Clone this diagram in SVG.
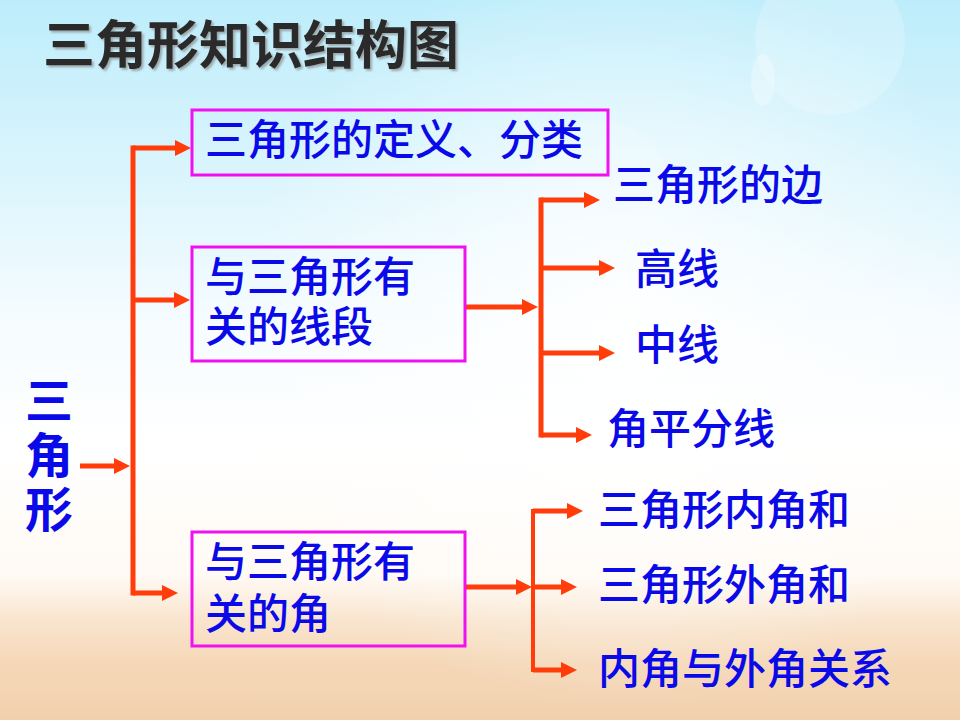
<svg xmlns="http://www.w3.org/2000/svg" width="960" height="720" viewBox="0 0 960 720">
<defs>
<linearGradient id="bg" x1="0" y1="0" x2="0" y2="1">
<stop offset="0" stop-color="#bdedfb"/>
<stop offset="0.25" stop-color="#dcf5fd"/>
<stop offset="0.45" stop-color="#f6fcff"/>
<stop offset="0.62" stop-color="#ffffff"/>
<stop offset="0.8" stop-color="#fffaf4"/>
<stop offset="0.86" stop-color="#f9e5cf"/>
<stop offset="0.92" stop-color="#f5d8b8"/>
<stop offset="1" stop-color="#f2d0ae"/>
</linearGradient>
<radialGradient id="glow" cx="620" cy="330" r="380" gradientUnits="userSpaceOnUse">
<stop offset="0" stop-color="#ffffff" stop-opacity="0.9"/>
<stop offset="1" stop-color="#ffffff" stop-opacity="0"/>
</radialGradient>
<marker id="ah" viewBox="0 0 16 16" refX="8" refY="8" markerWidth="16" markerHeight="16" markerUnits="userSpaceOnUse" orient="auto">
<path d="M0,0 L16,8 L0,16 z" fill="#ff3c0a"/>
</marker>
<filter id="sh" x="-5%" y="-20%" width="110%" height="140%">
<feDropShadow dx="2" dy="2" stdDeviation="0.8" flood-color="#888888" flood-opacity="0.7"/>
</filter>
</defs>
<style>
.t{font-family:"Liberation Sans","Noto Sans CJK SC","Noto Sans CJK JP",sans-serif;fill:#0a0ae8;font-size:42px;font-weight:500;}
.r{font-size:48px;font-weight:bold;}
.box{fill:none;stroke:#f010f0;stroke-width:3;}
.c{fill:none;stroke:#ff3c0a;stroke-width:5;stroke-linecap:square;}
.a{fill:none;stroke:#ff3c0a;stroke-width:5;marker-end:url(#ah);}
</style>
<rect x="0" y="0" width="960" height="720" fill="url(#bg)"/>
<rect x="0" y="0" width="960" height="720" fill="url(#glow)"/>
<circle cx="830" cy="40" r="75" fill="#ffffff" opacity="0.22"/>
<ellipse cx="763" cy="80" rx="12" ry="26" fill="#ffffff" opacity="0.3"/>
<circle cx="600" cy="190" r="70" fill="#ffffff" opacity="0.15"/>

<text x="43" y="64" font-family="Noto Sans CJK SC, sans-serif" font-size="52" font-weight="bold" fill="#2b2b2b" filter="url(#sh)">三角形知识结构图</text>

<g id="connectors">
<path class="c" d="M133,148 V593"/>
<path class="a" d="M133,148 H183"/>
<path class="a" d="M133,300 H182"/>
<path class="a" d="M133,593 H170"/>
<path class="a" d="M80,466 H122"/>
<path class="a" d="M465,307 H530"/>
<path class="c" d="M541,200 V435"/>
<path class="a" d="M541,200 H592"/>
<path class="a" d="M541,268 H607"/>
<path class="a" d="M541,353 H607"/>
<path class="a" d="M541,435 H584"/>
<path class="a" d="M465,587 H524"/>
<path class="c" style="stroke-width:4" d="M533,511 V670"/>
<path class="a" d="M533,511 H575"/>
<path class="a" d="M533,587 H569"/>
<path class="a" d="M533,670 H569"/>
</g>

<g id="root">
<text class="t r"><tspan x="25" y="418">三</tspan><tspan x="25" y="473">角</tspan><tspan x="25" y="527">形</tspan></text>
</g>
<g id="def">
<rect class="box" x="192" y="110" width="416" height="65"/>
<text class="t" x="205" y="155">三角形的定义、分类</text>
</g>
<g id="seg">
<rect class="box" x="192" y="247" width="273" height="114"/>
<text class="t"><tspan x="205" y="292">与三角形有</tspan><tspan x="205" y="342">关的线段</tspan></text>
</g>
<g id="ang">
<rect class="box" x="192" y="532" width="273" height="114"/>
<text class="t"><tspan x="205" y="577">与三角形有</tspan><tspan x="205" y="629">关的角</tspan></text>
</g>
<g id="side"><text class="t" x="613" y="200">三角形的边</text></g>
<g id="alt"><text class="t" x="635" y="284">高线</text></g>
<g id="med"><text class="t" x="635" y="360">中线</text></g>
<g id="bis"><text class="t" x="607" y="444">角平分线</text></g>
<g id="inner"><text class="t" x="598" y="525">三角形内角和</text></g>
<g id="outer"><text class="t" x="598" y="600">三角形外角和</text></g>
<g id="rel"><text class="t" x="598" y="684">内角与外角关系</text></g>
</svg>
